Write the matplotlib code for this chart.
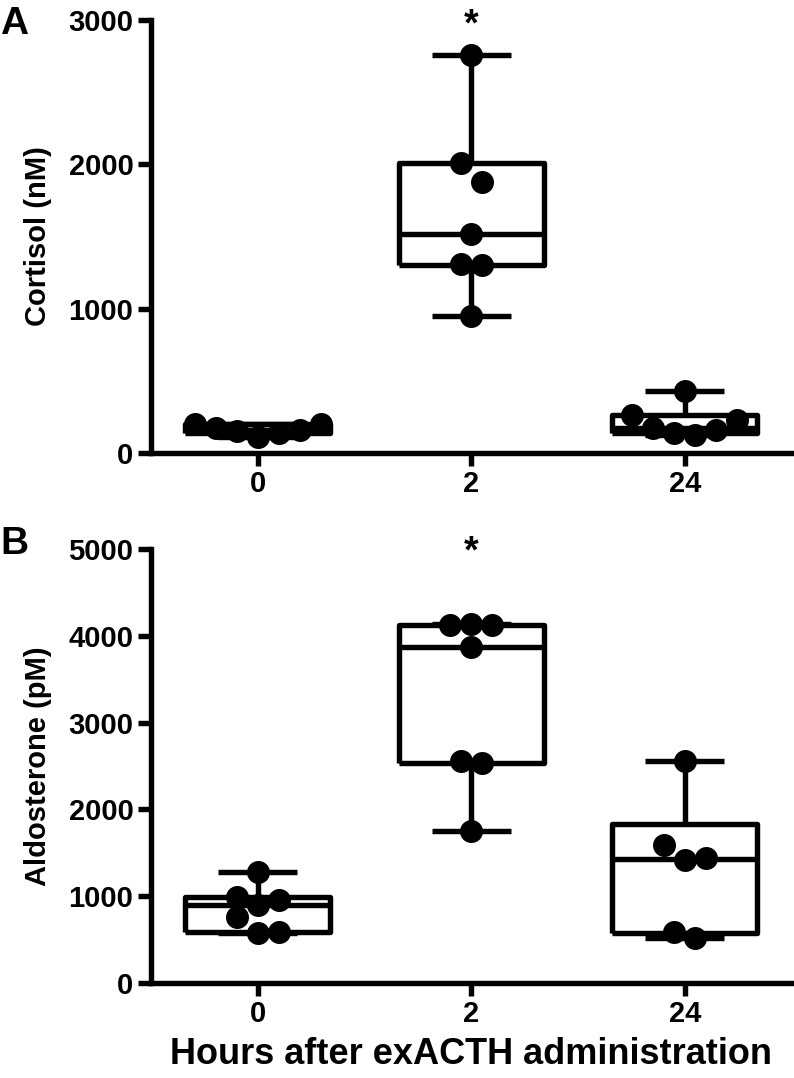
import numpy as np
import matplotlib.pyplot as plt

plt.rcParams['font.family'] = ['Liberation Sans', 'DejaVu Sans']
plt.rcParams['font.weight'] = 'bold'
plt.rcParams['axes.labelweight'] = 'bold'

hours = ['0', '2', '24']

# cortisol (nM), one list per time point
cortisol_0 = [200, 170, 150, 110, 140, 160, 200]
cortisol_2 = [2760, 2010, 1880, 1520, 1310, 1300, 950]
cortisol_24 = [430, 260, 230, 175, 160, 140, 125]

# aldosterone (pM)
aldo_0 = [1280, 990, 960, 900, 760, 590, 580]
aldo_2 = [4140, 4120, 4120, 3870, 2560, 2540, 1750]
aldo_24 = [2560, 1590, 1440, 1420, 590, 520]

W, H = 794, 1078
fig = plt.figure(figsize=(W / 100, H / 100), dpi=100)

LW = 3.9
DOT = 23  # marker diameter in pixels


def box_stats(values):
    v = np.asarray(values, float)
    q1, med, q3 = np.percentile(v, [25, 50, 75], method='weibull')
    return dict(med=med, q1=q1, q3=q3, whislo=v.min(), whishi=v.max(), fliers=[])


def swarm(values, row_h, step):
    # bin values into rows, spread each row symmetrically around the centre
    v = np.asarray(values, float)
    offs = np.zeros(len(v))
    rows = []
    for i in np.argsort(v):
        if rows and v[i] - v[rows[-1][0]] < row_h:
            rows[-1].append(i)
        else:
            rows.append([i])
    for row in rows:
        n = len(row)
        slots = sorted(np.arange(n) - (n - 1) / 2, key=lambda s: (abs(s), -s))
        for i, s in zip(row, slots):
            offs[i] = s * step
    return offs


def panel(rect, groups, ymax, ystep, ylabel, star_y):
    ax = fig.add_axes(rect)
    ax.set_xlim(-0.5, 2.5)
    ax.set_ylim(0, ymax)
    px_x = rect[2] * W / 3
    px_y = rect[3] * H / ymax

    stats = [box_stats(g) for g in groups]
    line = dict(lw=LW, color='black', solid_capstyle='butt')
    ax.bxp(stats, positions=range(3), widths=0.68, capwidths=0.37,
           showfliers=False, boxprops=line, whiskerprops=line,
           capprops=line, medianprops=line, zorder=2)

    for k, g in enumerate(groups):
        offs = swarm(g, 22 / px_y, 21 / px_x)
        ax.plot(k + offs, g, 'o', color='black', ms=DOT * 0.72,
                mew=0, zorder=3, clip_on=False)

    ax.text(1, star_y, '*', ha='center', va='center', fontsize=27,
            fontweight='bold', clip_on=False)

    ax.set_xticks(range(3))
    ax.set_xticklabels(hours)
    ax.set_yticks(np.arange(0, ymax + 1, ystep))
    ax.tick_params(width=LW, length=9.5, labelsize=21, pad=3)
    for s in ['top', 'right']:
        ax.spines[s].set_visible(False)
    for s in ['left', 'bottom']:
        ax.spines[s].set_linewidth(LW)
    ax.set_ylabel(ylabel, fontsize=21, labelpad=12)
    return ax


axA = panel([0.190, 0.5798, 0.807, 0.4017],
            [cortisol_0, cortisol_2, cortisol_24], 3000, 1000,
            'Cortisol (nM)', 2960)
axB = panel([0.190, 0.0881, 0.807, 0.4026],
            [aldo_0, aldo_2, aldo_24], 5000, 1000,
            'Aldosterone (pM)', 4960)
axB.set_xlabel('Hours after exACTH administration', fontsize=26, labelpad=6)

fig.text(0.0, 1 - 6 / H, 'A', fontsize=28, fontweight='bold', va='top')
fig.text(0.0, 1 - 526 / H, 'B', fontsize=28, fontweight='bold', va='top')

fig.savefig('out.png', dpi=100)
